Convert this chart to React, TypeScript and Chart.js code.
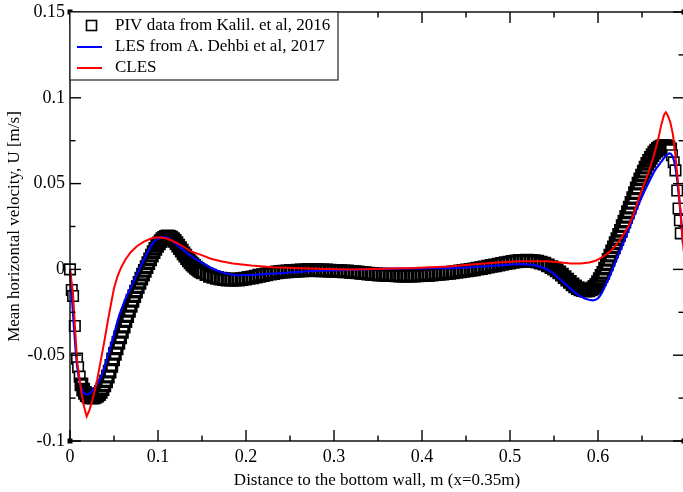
import { useEffect, useRef } from 'react';
import { Chart, registerables } from 'chart.js';

Chart.register(...registerables);

const FONT = '"Liberation Serif", "Times New Roman", serif';
const TEXT_SIZE = 17;
const TICK_SIZE = 18;

// Axis ticks
const xTickValues = [0, 0.1, 0.2, 0.3, 0.4, 0.5, 0.6];
const xTickLabels = ['0', '0.1', '0.2', '0.3', '0.4', '0.5', '0.6'];
const xMinorTicks = [0.05, 0.15, 0.25, 0.35, 0.45, 0.55, 0.65];
const yTickValues = [-0.1, -0.05, 0, 0.05, 0.1, 0.15];
const yTickLabels = ['-0.1', '-0.05', '0', '0.05', '0.1', '0.15'];
const yMinorTicks = [-0.075, -0.025, 0.025, 0.075, 0.125];

const xTitle = 'Distance to the bottom wall, m (x=0.35m)';
const yTitle = 'Mean horizontal velocity, U [m/s]';
const seriesLabels = ['PIV data from Kalil. et al, 2016', 'LES from A. Dehbi et al, 2017', 'CLES'];

// PIV measurements (distance [m], U [m/s])
const pivX = [
  0, 0.002, 0.0035, 0.0055, 0.008, 0.0092, 0.011,
  0.013, 0.015, 0.017, 0.019, 0.021, 0.023, 0.025, 0.027, 0.029, 0.031,
  0.033, 0.035, 0.037, 0.039, 0.041, 0.043, 0.045, 0.047, 0.049, 0.051,
  0.053, 0.055, 0.057, 0.059, 0.061, 0.063, 0.065, 0.067, 0.069, 0.071,
  0.073, 0.075, 0.077, 0.079, 0.081, 0.083, 0.085, 0.087, 0.089, 0.091,
  0.093, 0.095, 0.097, 0.099, 0.101, 0.103, 0.105, 0.107, 0.109, 0.111,
  0.113, 0.115, 0.117, 0.119, 0.121, 0.123, 0.125, 0.127, 0.129, 0.131,
  0.133, 0.135, 0.137, 0.139, 0.141, 0.143, 0.145, 0.147, 0.149, 0.151,
  0.155, 0.159, 0.163, 0.167, 0.171, 0.175, 0.179, 0.183, 0.187, 0.191,
  0.195, 0.199, 0.203, 0.207, 0.211, 0.215, 0.219, 0.223, 0.227, 0.231,
  0.235, 0.239, 0.243, 0.247, 0.251, 0.255, 0.259, 0.263, 0.267, 0.271,
  0.275, 0.279, 0.283, 0.287, 0.291, 0.295, 0.299, 0.303, 0.307, 0.311,
  0.315, 0.319, 0.323, 0.327, 0.331, 0.335, 0.339, 0.343, 0.347, 0.351,
  0.355, 0.359, 0.363, 0.367, 0.371, 0.375, 0.379, 0.383, 0.387, 0.391,
  0.395, 0.399, 0.403, 0.407, 0.411, 0.415, 0.419, 0.423, 0.427, 0.431,
  0.435, 0.439, 0.443, 0.447, 0.451, 0.455, 0.459, 0.463, 0.467, 0.471,
  0.475, 0.479, 0.483, 0.487, 0.491, 0.495, 0.499, 0.503, 0.507, 0.511,
  0.515, 0.519, 0.523, 0.527, 0.531, 0.535, 0.539, 0.543, 0.547,
  0.55, 0.553, 0.556, 0.559, 0.562, 0.565, 0.568, 0.571, 0.574, 0.577,
  0.58, 0.583, 0.586, 0.589, 0.592, 0.594, 0.596, 0.598,
  0.6, 0.602, 0.604, 0.606, 0.608, 0.61, 0.612, 0.614, 0.616, 0.618,
  0.62, 0.622, 0.624, 0.626, 0.628, 0.63, 0.632, 0.634, 0.636, 0.638,
  0.64, 0.642, 0.644, 0.646, 0.648, 0.65, 0.652, 0.654, 0.656, 0.658,
  0.66, 0.662, 0.664, 0.666, 0.668, 0.67, 0.672, 0.674, 0.676, 0.678,
  0.68, 0.682,
  0.684, 0.686, 0.688, 0.69, 0.6915, 0.693, 0.694,
];
const pivU = [
  0, -0.012, -0.0155, -0.033, -0.052, -0.057, -0.0625,
  -0.067, -0.07, -0.072, -0.0733, -0.0741, -0.0745, -0.0747, -0.0746, -0.0742, -0.0736,
  -0.0727, -0.0714, -0.0697, -0.0676, -0.0652, -0.0625, -0.0596, -0.0562, -0.0525, -0.0492,
  -0.046, -0.0428, -0.0396, -0.0364, -0.0333, -0.0302, -0.0272, -0.0242, -0.0213, -0.0184,
  -0.0156, -0.0129, -0.0103, -0.0078, -0.0054, -0.0031, -0.0009, 0.0013, 0.0036, 0.0058,
  0.008, 0.0101, 0.012, 0.0137, 0.0152, 0.0165, 0.0176, 0.0184, 0.019, 0.0192,
  0.019, 0.0185, 0.0177, 0.0166, 0.0153, 0.0139, 0.0124, 0.0109, 0.0094, 0.008,
  0.0066, 0.0053, 0.0041, 0.003, 0.002, 0.0011, 0.0003, -0.0005, -0.0012, -0.0018,
  -0.0028, -0.0037, -0.0044, -0.005, -0.0054, -0.0057, -0.0059, -0.006, -0.006, -0.0059,
  -0.0057, -0.0054, -0.005, -0.0046, -0.0042, -0.0037, -0.0033, -0.0029, -0.0025, -0.0021,
  -0.0018, -0.0015, -0.0013, -0.0011, -0.0009, -0.0008, -0.0007, -0.0006, -0.0005, -0.0004,
  -0.0004, -0.0004, -0.0005, -0.0005, -0.0006, -0.0007, -0.0008, -0.0009, -0.001, -0.0011,
  -0.0012, -0.0014, -0.0016, -0.0018, -0.002, -0.0022, -0.0024, -0.0026, -0.0028, -0.003,
  -0.0031, -0.0032, -0.0033, -0.0034, -0.0035, -0.0036, -0.0036, -0.0036, -0.0036, -0.0036,
  -0.0035, -0.0034, -0.0033, -0.0032, -0.003, -0.0028, -0.0026, -0.0024, -0.0022, -0.002,
  -0.0018, -0.0015, -0.0012, -0.0009, -0.0006, -0.0003, 0, 0.0004, 0.0008, 0.0012,
  0.0016, 0.002, 0.0024, 0.0028, 0.0032, 0.0036, 0.004, 0.0044, 0.0047, 0.0049,
  0.005, 0.0051, 0.005, 0.0048, 0.0045, 0.004, 0.0033, 0.0024, 0.0013,
  0.0005, -0.0006, -0.0018, -0.0031, -0.0045, -0.0059, -0.0073, -0.0087, -0.0099, -0.0109,
  -0.0116, -0.0121, -0.0123, -0.0122, -0.0117, -0.0111, -0.0102, -0.009,
  -0.0074, -0.0056, -0.0038, -0.002, 0.0005, 0.003, 0.0055, 0.008, 0.0105, 0.0129,
  0.0153, 0.0177, 0.0201, 0.0225, 0.0252, 0.0279, 0.0306, 0.0333, 0.036, 0.0388,
  0.0416, 0.0444, 0.0472, 0.05, 0.0524, 0.0547, 0.057, 0.0593, 0.0615, 0.0633,
  0.065, 0.0666, 0.068, 0.0692, 0.0702, 0.071, 0.0715, 0.0718, 0.0718, 0.0716,
  0.0711, 0.07,
  0.0665, 0.0624, 0.0577, 0.046, 0.0355, 0.0286, 0.021,
];
// the first and last few measurements stand apart from the dense band
const pivSparseHead = 7;
const pivSparseTail = 7;

// LES profile (A. Dehbi et al, 2017)
const lesX = [
  0, 0.004, 0.008, 0.012, 0.016, 0.02, 0.024, 0.028, 0.032, 0.036,
  0.04, 0.045, 0.05, 0.055, 0.06, 0.065, 0.07, 0.075, 0.08, 0.085,
  0.09, 0.095, 0.1, 0.105, 0.11, 0.115, 0.12, 0.13, 0.14, 0.15,
  0.16, 0.17, 0.18, 0.19, 0.2, 0.22, 0.25, 0.28, 0.32, 0.36,
  0.4, 0.44, 0.47, 0.5, 0.515, 0.53, 0.545, 0.555, 0.565, 0.575,
  0.585, 0.594, 0.6, 0.605, 0.61, 0.615, 0.62, 0.63, 0.6375, 0.647,
  0.657, 0.665, 0.672, 0.677, 0.681, 0.684, 0.687, 0.69, 0.692, 0.694,
  0.6965,
];
const lesU = [
  0, -0.03, -0.056, -0.068, -0.0722, -0.0728, -0.0715, -0.069, -0.0658, -0.0618,
  -0.0555, -0.047, -0.038, -0.0285, -0.0212, -0.0148, -0.0095, -0.004, 0.0015, 0.0068,
  0.0118, 0.0158, 0.018, 0.0188, 0.0184, 0.017, 0.015, 0.0108, 0.007, 0.0038,
  0.001, -0.0012, -0.0027, -0.0034, -0.0034, -0.0028, -0.0018, -0.0008, -0.0002, 0.0004,
  0.0006, 0.0009, 0.0017, 0.0028, 0.0031, 0.0022, -0.0008, -0.005, -0.0095, -0.014,
  -0.017, -0.018, -0.0168, -0.013, -0.0075, -0.0018, 0.0045, 0.017, 0.0268, 0.039,
  0.05, 0.058, 0.0628, 0.0662, 0.0676, 0.0665, 0.062, 0.052, 0.042, 0.032,
  0.015,
];

// CLES profile
const clesX = [
  0, 0.0034, 0.0057, 0.008, 0.013, 0.016, 0.019, 0.022, 0.025, 0.028,
  0.031, 0.035, 0.039, 0.043, 0.047, 0.05, 0.054, 0.058, 0.063, 0.069,
  0.076, 0.084, 0.092, 0.1, 0.108, 0.115, 0.125, 0.1375, 0.149, 0.16,
  0.1716, 0.185, 0.206, 0.23, 0.2625, 0.29, 0.319, 0.353, 0.39, 0.43,
  0.467, 0.49, 0.5125, 0.543, 0.558, 0.569, 0.58, 0.59, 0.598, 0.606,
  0.615, 0.624, 0.634, 0.64, 0.645, 0.651, 0.657, 0.663, 0.668, 0.672,
  0.675, 0.677, 0.679, 0.682, 0.685, 0.688, 0.691, 0.6935, 0.6955, 0.6975,
];
const clesU = [
  0, -0.014, -0.034, -0.053, -0.072, -0.08, -0.0857, -0.082, -0.077, -0.071,
  -0.064, -0.053, -0.042, -0.03, -0.019, -0.011, -0.004, 0.001, 0.0058, 0.01,
  0.0135, 0.0162, 0.018, 0.0187, 0.0182, 0.017, 0.0145, 0.0105, 0.0085, 0.0062,
  0.0048, 0.0035, 0.0023, 0.0013, 0.0006, 0.0002, 0, 0.0004, 0.0008, 0.0017,
  0.0033, 0.0041, 0.0047, 0.0047, 0.004, 0.0034, 0.0034, 0.004, 0.0052, 0.0075,
  0.011, 0.0165, 0.0245, 0.0315, 0.0395, 0.0478, 0.056, 0.0655, 0.075, 0.0845,
  0.09, 0.0915, 0.09, 0.086, 0.079, 0.066, 0.05, 0.035, 0.021, 0.01,
];

const toPoints = (xs: number[], ys: number[]) => xs.map((x, i) => ({ x, y: ys[i] }));

// Boxed frame with inward ticks on all four sides, corner marks, and the inset legend
const framePlugin = {
  id: 'frameAndLegend',
  afterDraw(chart: any) {
    const { ctx, chartArea } = chart;
    const { left, right, top, bottom } = chartArea;
    const xs = chart.scales.x;
    const ys = chart.scales.y;
    const seg = (x1: number, y1: number, x2: number, y2: number) => {
      ctx.beginPath();
      ctx.moveTo(x1, y1);
      ctx.lineTo(x2, y2);
      ctx.stroke();
    };
    ctx.save();
    ctx.strokeStyle = '#000';
    ctx.lineWidth = 1.4;
    ctx.strokeRect(left, top, right - left, bottom - top);

    const major = 11;
    const minor = 5.5;
    xTickValues.forEach((v) => {
      const p = xs.getPixelForValue(v);
      seg(p, bottom, p, bottom - major);
      seg(p, top, p, top + major);
    });
    xMinorTicks.forEach((v) => {
      const p = xs.getPixelForValue(v);
      seg(p, bottom, p, bottom - minor);
      seg(p, top, p, top + minor);
    });
    yTickValues.forEach((v) => {
      const p = ys.getPixelForValue(v);
      seg(left, p, left + major, p);
      seg(right, p, right - major, p);
    });
    yMinorTicks.forEach((v) => {
      const p = ys.getPixelForValue(v);
      seg(left, p, left + minor, p);
      seg(right, p, right - minor, p);
    });

    ctx.fillStyle = '#000';
    [[left, top], [left, bottom], [right, bottom], [right, top]].forEach(([cx, cy]) => {
      ctx.fillRect(cx - 2.5, cy - 2.5, 5, 5);
    });

    // legend box
    const lw = 268;
    const lh = 68;
    ctx.fillStyle = '#fff';
    ctx.fillRect(left, top, lw, lh);
    ctx.lineWidth = 1.2;
    ctx.strokeStyle = '#222';
    ctx.strokeRect(left, top, lw, lh);

    ctx.font = `${TEXT_SIZE}px ${FONT}`;
    ctx.textBaseline = 'middle';
    ctx.textAlign = 'left';
    const rows = [top + 13.5, top + 35, top + 56];
    const textX = left + 45;

    // square marker
    ctx.lineWidth = 1.6;
    ctx.strokeStyle = '#000';
    ctx.fillStyle = '#fff';
    ctx.fillRect(left + 16.5, rows[0] - 5, 10, 10);
    ctx.strokeRect(left + 16.5, rows[0] - 5, 10, 10);

    ctx.lineWidth = 2;
    ctx.strokeStyle = '#0000ff';
    seg(left + 7, rows[1], left + 32, rows[1]);
    ctx.strokeStyle = '#ff0000';
    seg(left + 7, rows[2], left + 32, rows[2]);

    ctx.fillStyle = '#000';
    seriesLabels.forEach((t, i) => ctx.fillText(t, textX, rows[i]));
    ctx.restore();
  },
};

export default function App() {
  const ref = useRef<HTMLCanvasElement | null>(null);

  useEffect(() => {
    if (!ref.current) return;
    const chart = new Chart(ref.current, {
      type: 'scatter',
      data: {
        datasets: [
          {
            label: seriesLabels[2],
            data: toPoints(clesX, clesU),
            showLine: true,
            borderColor: '#ff0000',
            borderWidth: 2,
            pointRadius: 0,
            tension: 0,
            clip: false,
            order: 1,
          },
          {
            label: seriesLabels[1],
            data: toPoints(lesX, lesU),
            showLine: true,
            borderColor: '#0000ff',
            borderWidth: 2.2,
            pointRadius: 0,
            cubicInterpolationMode: 'monotone',
            clip: false,
            order: 2,
          },
          {
            label: seriesLabels[0],
            data: toPoints(pivX, pivU),
            showLine: false,
            pointStyle: 'rect',
            pointRadius: 7.4,
            pointHoverRadius: 7.4,
            pointBorderWidth: (c: any) =>
              c.dataIndex < pivSparseHead || c.dataIndex >= pivX.length - pivSparseTail ? 1.6 : 3.3,
            borderColor: '#000',
            backgroundColor: '#fff',
            clip: false,
            order: 3,
          },
        ],
      } as any,
      options: {
        animation: false,
        responsive: false,
        maintainAspectRatio: false,
        devicePixelRatio: 1,
        events: [],
        layout: { autoPadding: false, padding: { left: 0, right: 2, top: 12, bottom: 0 } },
        plugins: {
          legend: { display: false },
          tooltip: { enabled: false },
        },
        scales: {
          x: {
            type: 'linear',
            min: 0,
            max: 0.6977,
            grid: { display: false, drawTicks: false },
            border: { display: false },
            afterBuildTicks: (s: any) => {
              s.ticks = xTickValues.map((value) => ({ value }));
            },
            afterFit: (s: any) => {
              s.height = 51;
              s.paddingLeft = 0;
              s.paddingRight = 0;
              s.paddingTop = 0;
              s.paddingBottom = 0;
            },
            ticks: {
              autoSkip: false,
              maxRotation: 0,
              padding: 5,
              color: '#000',
              font: { family: FONT, size: TICK_SIZE },
              callback: (_v: any, i: number) => xTickLabels[i],
            },
            title: {
              display: true,
              text: xTitle,
              color: '#000',
              font: { family: FONT, size: TEXT_SIZE },
              padding: { top: 0, bottom: 1 },
            },
          },
          y: {
            type: 'linear',
            min: -0.1,
            max: 0.15,
            grid: { display: false, drawTicks: false },
            border: { display: false },
            afterBuildTicks: (s: any) => {
              s.ticks = yTickValues.map((value) => ({ value }));
            },
            afterFit: (s: any) => {
              s.width = 70;
              s.paddingLeft = 0;
              s.paddingRight = 0;
              s.paddingTop = 0;
              s.paddingBottom = 0;
            },
            ticks: {
              autoSkip: false,
              padding: 5,
              color: '#000',
              font: { family: FONT, size: TICK_SIZE },
              callback: (_v: any, i: number) => yTickLabels[i],
            },
            title: {
              display: true,
              text: yTitle,
              color: '#000',
              font: { family: FONT, size: TEXT_SIZE },
              padding: { top: 4, bottom: 0 },
            },
          },
        },
      } as any,
      plugins: [framePlugin],
    });
    return () => chart.destroy();
  }, []);

  return (
    <div
      style={{
        position: 'fixed',
        left: 0,
        top: 0,
        width: 683,
        height: 492,
        overflow: 'hidden',
        background: '#fff',
      }}
    >
      <div style={{ width: 686, height: 492 }}>
        <canvas ref={ref} width={686} height={492} style={{ display: 'block', width: 686, height: 492 }} />
      </div>
    </div>
  );
}
